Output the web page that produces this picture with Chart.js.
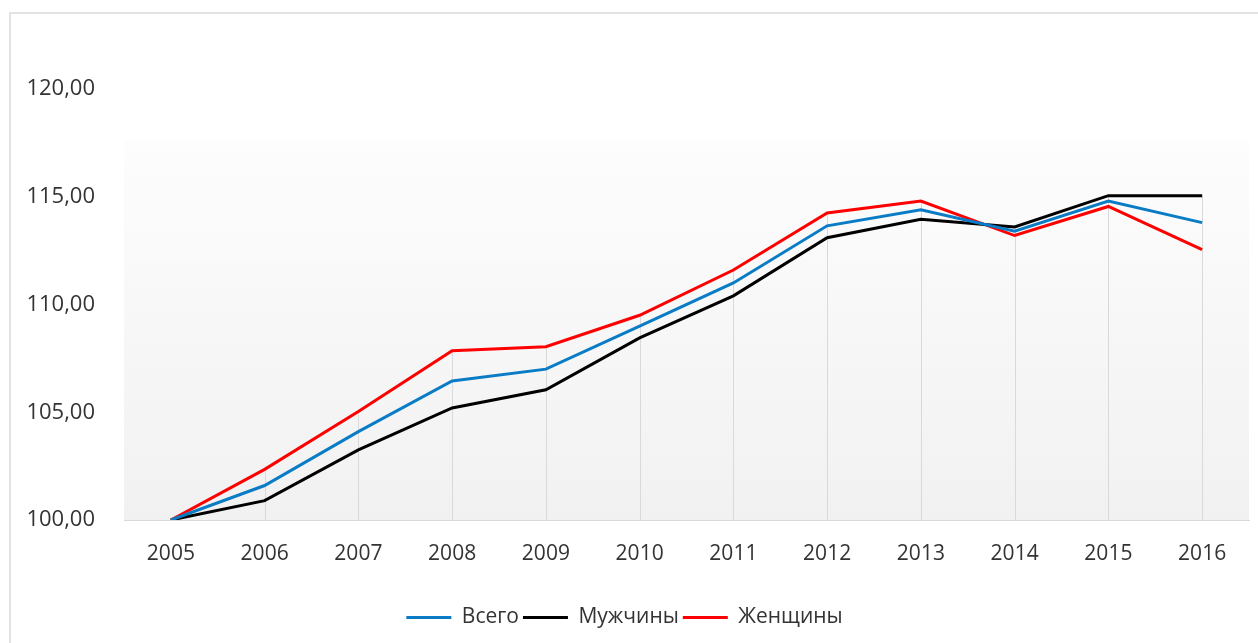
<!DOCTYPE html>
<html>
<head>
<meta charset="utf-8">
<script src="https://cdn.jsdelivr.net/npm/chart.js@4.4.0/dist/chart.umd.min.js"></script>
<style>
  html, body { margin: 0; padding: 0; background: #fff; overflow: hidden; }
  #wrap { position: relative; width: 1258px; height: 643px; }
  #frame {
    position: absolute; left: 9px; top: 12px; width: 1300px; height: 700px;
    border: 2px solid #e3e3e3; box-sizing: border-box;
  }
  canvas { position: absolute; left: 0; top: 0; }
</style>
</head>
<body>
<div id="wrap">
  <div id="frame"></div>
  <canvas id="chart" width="1258" height="643"></canvas>
</div>
<script>
// ── Data ────────────────────────────────────────────────────
const years = ['2005', '2006', '2007', '2008', '2009', '2010', '2011', '2012', '2013', '2014', '2015', '2016'];
const total = [100.0, 101.6, 104.1, 106.45, 107.0, 109.0, 111.0, 113.65, 114.4, 113.4, 114.8, 113.8];
const men   = [100.0, 100.9, 103.25, 105.2, 106.04, 108.45, 110.4, 113.1, 113.95, 113.6, 115.05, 115.05];
const women = [100.0, 102.35, 105.03, 107.85, 108.04, 109.5, 111.6, 114.25, 114.8, 113.2, 114.55, 112.55];
const yTicks = [100, 105, 110, 115, 120];

const FONT = { family: "'Open Sans', sans-serif", size: 21 };
const TEXT = '#333333';

// plot area gradient (white -> light grey)
const plotBackground = {
  id: 'plotBackground',
  beforeDraw(chart) {
    const { ctx, chartArea: a } = chart;
    const top = a.top + (a.bottom - a.top) * 0.12;
    const g = ctx.createLinearGradient(0, top, 0, a.bottom);
    g.addColorStop(0, '#fdfdfd');
    g.addColorStop(1, '#f1f1f1');
    ctx.save();
    ctx.fillStyle = g;
    ctx.fillRect(a.left, top, a.right - a.left, a.bottom - top);
    ctx.restore();
  }
};

// drop lines from the highest point of each category down to the axis
const dropLines = {
  id: 'dropLines',
  beforeDatasetsDraw(chart) {
    const { ctx, chartArea: a } = chart;
    const metas = chart.data.datasets.map((_, i) => chart.getDatasetMeta(i));
    ctx.save();
    ctx.strokeStyle = '#d9d9d9';
    ctx.lineWidth = 1;
    years.forEach((_, i) => {
      const ys = metas.map(m => m.data[i].y);
      const x = Math.round(metas[0].data[i].x) + 0.5;
      ctx.beginPath();
      ctx.moveTo(x, Math.min(...ys));
      ctx.lineTo(x, a.bottom);
      ctx.stroke();
    });
    ctx.restore();
  }
};

const line = (label, data, color) => ({
  label, data,
  borderColor: color,
  backgroundColor: color,
  borderWidth: 3,
  pointRadius: 0,
  tension: 0,
  fill: false
});

new Chart(document.getElementById('chart'), {
  type: 'line',
  data: {
    labels: years,
    datasets: [
      line('Всего', total, '#0a7cc6'),
      line('Мужчины', men, '#000000'),
      line('Женщины', women, '#ff0000')
    ]
  },
  options: {
    responsive: false,
    animation: false,
    layout: { padding: { top: 89, right: 9, left: 0, bottom: 5 } },
    plugins: {
      tooltip: { enabled: false },
      legend: {
        position: 'bottom',
        labels: {
          color: TEXT,
          font: FONT,
          boxWidth: 45,
          boxHeight: 3,
          padding: 4,
          generateLabels(chart) {
            return Chart.defaults.plugins.legend.labels.generateLabels(chart)
              .map(item => Object.assign(item, { lineWidth: 0 }));
          }
        }
      }
    },
    scales: {
      x: {
        offset: true,
        grid: { display: false, offset: false },
        border: { display: true, color: '#d9d9d9', width: 1 },
        ticks: { color: TEXT, font: FONT, padding: 13, maxRotation: 0 },
        afterFit(scale) { scale.height = 83; }
      },
      y: {
        min: 100, max: 120,
        grid: { display: false },
        border: { display: false },
        afterBuildTicks(scale) { scale.ticks = yTicks.map(v => ({ value: v })); },
        afterFit(scale) { scale.width = 124; },
        ticks: {
          color: TEXT, font: { family: FONT.family, size: 22 }, padding: 21,
          callback: v => v.toFixed(2).replace('.', ',')
        }
      }
    }
  },
  plugins: [plotBackground, dropLines]
});
</script>
</body>
</html>
